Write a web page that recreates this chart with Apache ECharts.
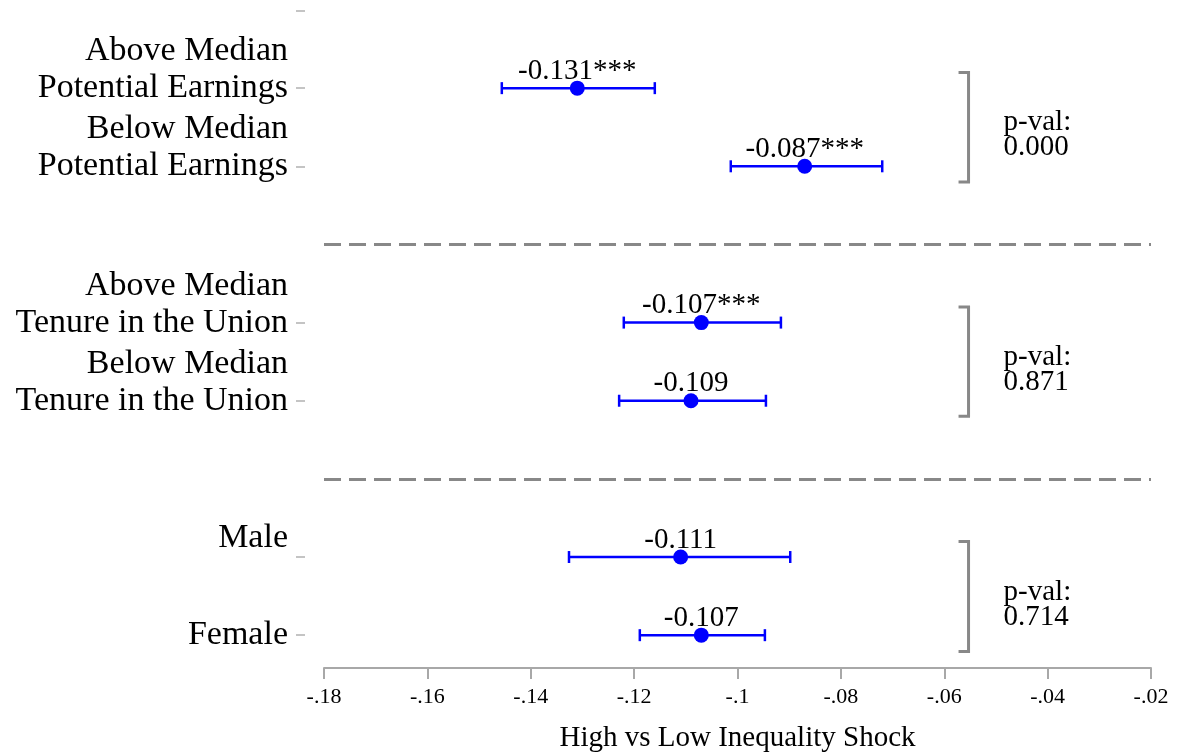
<!DOCTYPE html>
<html>
<head>
<meta charset="utf-8">
<script src="https://cdn.jsdelivr.net/npm/echarts@6/dist/echarts.min.js"></script>
<style>
  html, body { margin: 0; padding: 0; background: #fff; }
  #main { width: 1177px; height: 753px; }
</style>
</head>
<body>
<div id="main"></div>
<script>
// groups, top to bottom, with their position on the y axis
var groupLabels = ['Above Median\nPotential Earnings', 'Below Median\nPotential Earnings',
                   'Above Median\nTenure in the Union', 'Below Median\nTenure in the Union',
                   'Male', 'Female'];
var groupPos = [7, 6, 4, 3, 1, 0];
var estimates = [-0.131, -0.087, -0.107, -0.109, -0.111, -0.107];
var stars = ['***', '***', '***', '', '', ''];
var ciLow = [-0.1456, -0.1013, -0.1220, -0.1229, -0.1326, -0.1189];
var ciHigh = [-0.1160, -0.0720, -0.0916, -0.0945, -0.0898, -0.0947];

// p-value brackets: [bottom, top] on the y axis
var pvalRanges = [[5.8, 7.2], [2.8, 4.2], [-0.21, 1.2]];
var pvalText = ['0.000', '0.871', '0.714'];
var separators = [5, 2];

var FONT = "'Liberation Serif', 'Times New Roman', serif";
var bracketX = -0.0553;
var yMin = -0.42, yMax = 8;

var chart = echarts.init(document.getElementById('main'));

var pointData = [];
var barData = [];
for (var i = 0; i < estimates.length; i++) {
    pointData.push([estimates[i], groupPos[i], stars[i]]);
    barData.push([ciLow[i], ciHigh[i], groupPos[i]]);
}
var bracketData = [];
for (var j = 0; j < pvalRanges.length; j++) {
    bracketData.push([pvalRanges[j][0], pvalRanges[j][1]]);
}

function tickLabel(v) {
    var s = v.toFixed(2);
    s = s.replace(/0+$/, '').replace('-0.', '-.');
    return s;
}

// empty labels at both ends so no group label gets dropped as min/max
var labelValues = [yMin].concat(groupPos.slice().reverse()).concat([yMax]);

var option = {
    animation: false,
    grid: { left: 324, right: 26, top: 10, bottom: 85, outerBoundsMode: 'none', containLabel: false },
    xAxis: {
        type: 'value',
        min: -0.18,
        max: -0.02,
        interval: 0.02,
        name: 'High vs Low Inequality Shock',
        nameLocation: 'middle',
        nameGap: 56,
        nameTextStyle: { fontFamily: FONT, fontSize: 29, color: '#000' },
        axisLine: { show: true, onZero: false, lineStyle: { color: '#a8a8a8', width: 2 } },
        axisTick: { show: true, length: 11, lineStyle: { color: '#a8a8a8', width: 2 } },
        axisLabel: {
            fontFamily: FONT, fontSize: 22, color: '#000', margin: 18,
            formatter: tickLabel
        },
        splitLine: { show: false }
    },
    yAxis: {
        type: 'value',
        min: yMin,
        max: yMax,
        offset: 19,
        axisLine: { show: false },
        axisTick: {
            show: true, length: 9, customValues: groupPos.concat([yMax - 0.01]),
            lineStyle: { color: '#c4c4c4', width: 2 }
        },
        axisLabel: {
            customValues: labelValues,
            showMinLabel: false,
            showMaxLabel: false,
            hideOverlap: false,
            fontFamily: FONT, fontSize: 34, color: '#000', margin: 17,
            lineHeight: 37, align: 'right',
            padding: [5, 0, 0, 0],
            formatter: function (v) {
                var k = groupPos.indexOf(v);
                if (k < 0) return '';
                // all but the last label sit one line above the tick
                return k === groupLabels.length - 1 ? groupLabels[k] : groupLabels[k] + '\n';
            }
        },
        splitLine: { show: false }
    },
    series: [
        {
            type: 'custom',
            name: 'ci',
            data: barData,
            encode: { x: [0, 1], y: 2 },
            renderItem: function (params, api) {
                var a = api.coord([api.value(0), api.value(2)]);
                var b = api.coord([api.value(1), api.value(2)]);
                var h = 6;
                var st = { stroke: '#0000ff', lineWidth: 2.5 };
                return {
                    type: 'group',
                    children: [
                        { type: 'line', shape: { x1: a[0], y1: a[1], x2: b[0], y2: b[1] }, style: st },
                        { type: 'line', shape: { x1: a[0], y1: a[1] - h, x2: a[0], y2: a[1] + h }, style: st },
                        { type: 'line', shape: { x1: b[0], y1: b[1] - h, x2: b[0], y2: b[1] + h }, style: st }
                    ]
                };
            },
            markLine: {
                silent: true,
                symbol: 'none',
                label: { show: false },
                lineStyle: { color: '#888', width: 3, type: [17, 8] },
                data: separators.map(function (s) { return { yAxis: s }; })
            },
            z: 2
        },
        {
            type: 'scatter',
            name: 'estimate',
            data: pointData,
            symbol: 'circle',
            symbolSize: 15,
            itemStyle: { color: '#0000ff', opacity: 1 },
            label: {
                show: true,
                position: 'top',
                distance: -5,
                fontFamily: FONT,
                fontSize: 29,
                lineHeight: 29,
                color: '#000',
                opacity: 1,
                formatter: function (p) {
                    return p.value[0].toFixed(3) + p.value[2];
                }
            },
            z: 3
        },
        {
            type: 'custom',
            name: 'pval',
            data: bracketData,
            encode: { y: [0, 1] },
            renderItem: function (params, api) {
                var lo = api.coord([bracketX, api.value(0)]);
                var hi = api.coord([bracketX, api.value(1)]);
                var cap = 10;
                return {
                    type: 'group',
                    children: [
                        {
                            type: 'polyline',
                            shape: { points: [[lo[0] - cap, hi[1]], [lo[0], hi[1]], [lo[0], lo[1]], [lo[0] - cap, lo[1]]] },
                            style: { stroke: '#888', lineWidth: 3, fill: null }
                        },
                        {
                            type: 'text',
                            style: {
                                x: lo[0] + 35,
                                y: (lo[1] + hi[1]) / 2 + 8,
                                text: 'p-val:\n' + pvalText[params.dataIndex],
                                font: '29px ' + FONT,
                                lineHeight: 25,
                                fill: '#000',
                                align: 'left',
                                verticalAlign: 'middle'
                            }
                        }
                    ]
                };
            },
            z: 2
        }
    ]
};

chart.setOption(option);
</script>
</body>
</html>
